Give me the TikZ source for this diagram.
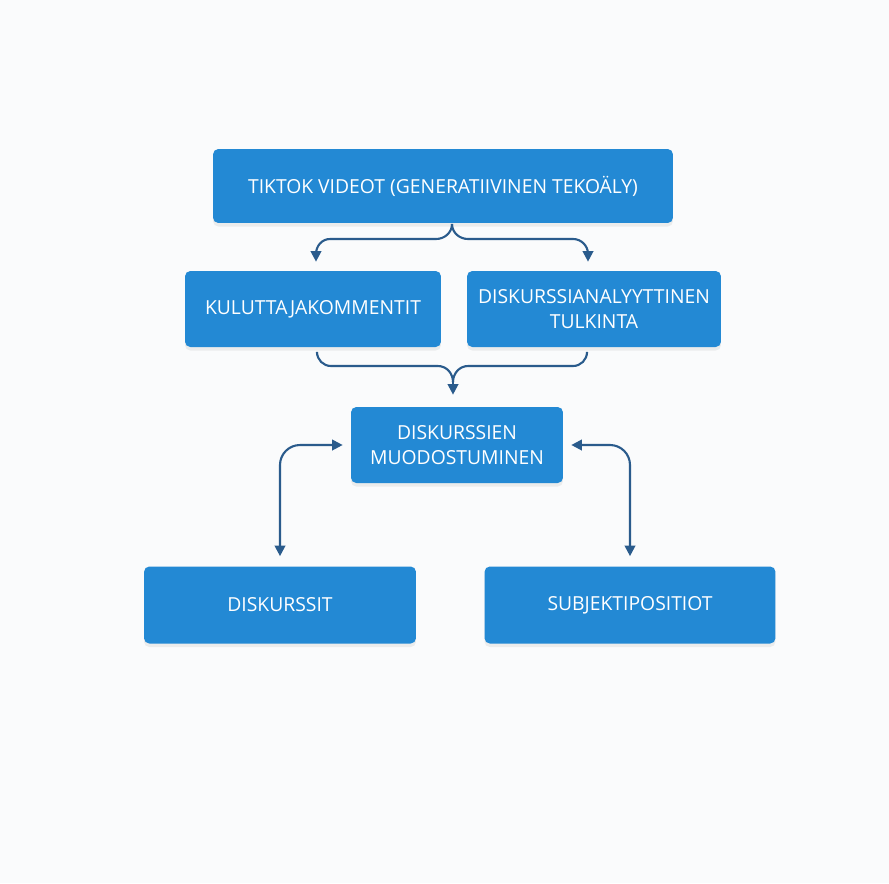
\documentclass[tikz,border=0pt]{standalone}
\usepackage{fontspec}
\setmainfont{Open Sans}
\usepackage{xcolor}
\usepackage{tikz}
\usetikzlibrary{arrows.meta,shadows,calc}
\definecolor{boxblue}{HTML}{2389D4}
\definecolor{linkblue}{HTML}{2A5B8C}
\definecolor{paper}{HTML}{FAFBFC}

\begin{document}
\begin{tikzpicture}[x=0.02cm,y=-0.02cm,
  box/.style={fill=boxblue, text=white, rounded corners=3pt, align=center,
    font=\fontsize{11}{14.2}\selectfont, inner sep=0pt,
    drop shadow={opacity=0.12, shadow xshift=0pt, shadow yshift=-2pt}},
  line/.style={linkblue, line width=1.2pt},
  link/.style={line, -{Triangle[length=6pt,width=6pt]}},
  twoway/.style={line, {Triangle[length=6pt,width=6pt]}-{Triangle[length=6pt,width=6pt]}}]
% Background
\fill[paper] (0,0) rectangle (889,883);
\useasboundingbox (0,0) rectangle (889,883);
% Boxes
\node[box, minimum width=9.2cm, minimum height=1.48cm] (tiktok) at (443,186) {TIKTOK VIDEOT (GENERATIIVINEN TEKOÄLY)};
\node[box, minimum width=5.12cm, minimum height=1.52cm] (kommentit) at (313,309) {KULUTTAJAKOMMENTIT};
\node[box, minimum width=5.08cm, minimum height=1.52cm] (tulkinta) at (594,309) {DISKURSSIANALYYTTINEN\\TULKINTA};
\node[box, minimum width=4.24cm, minimum height=1.52cm] (muodostuminen) at (457,445) {DISKURSSIEN\\MUODOSTUMINEN};
\node[box, minimum width=5.44cm, minimum height=1.54cm] (diskurssit) at (280,605) {DISKURSSIT};
\node[box, minimum width=5.82cm, minimum height=1.54cm] (subjektit) at (630,605) {SUBJEKTIPOSITIOT};
% Split from the top box
\coordinate (split) at (452,224);
\draw[link, shorten >=0.18cm] (split) to[out=-90,in=0] (436,239) -- (330,239)
  to[out=180,in=90] ([xshift=0.06cm]kommentit.north |- 0,254) -- ([xshift=0.06cm]kommentit.north);
\draw[link, shorten >=0.18cm] (split) to[out=-90,in=180] (468,239) -- (573,239)
  to[out=0,in=90] ([xshift=-0.12cm]tulkinta.north |- 0,254) -- ([xshift=-0.12cm]tulkinta.north);
% Merge into the middle box
\coordinate (merge) at (453,382);
\draw[line, shorten <=0.12cm] ([xshift=0.08cm]kommentit.south) -- ([xshift=0.08cm]kommentit.south |- 0,352)
  to[out=-90,in=180] (331,366) -- (438,366) to[out=0,in=90] (merge);
\draw[line, shorten <=0.12cm] ([xshift=-0.14cm]tulkinta.south) -- ([xshift=-0.14cm]tulkinta.south |- 0,352)
  to[out=-90,in=0] (573,366) -- (468,366) to[out=180,in=90] (merge);
\draw[link, shorten >=0.24cm] (merge) -- (merge |- muodostuminen.north);
% Two-way links
\draw[twoway, rounded corners=0.4cm, shorten <=0.16cm, shorten >=0.2cm] (muodostuminen.west) -| (diskurssit.north);
\draw[twoway, rounded corners=0.4cm, shorten <=0.16cm, shorten >=0.2cm] (muodostuminen.east) -| (subjektit.north);
\end{tikzpicture}
\end{document}
